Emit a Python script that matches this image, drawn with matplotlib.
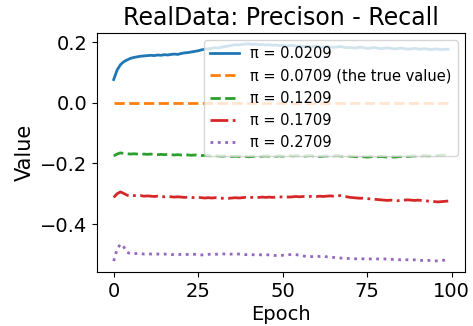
import numpy as np
import matplotlib.pyplot as plt

epochs = np.arange(100)

pi_0209 = [0.077, 0.108, 0.126, 0.136, 0.142, 0.147, 0.150, 0.152, 0.154, 0.155,
           0.156, 0.157, 0.156, 0.158, 0.157, 0.159, 0.158, 0.160, 0.161, 0.160,
           0.163, 0.165, 0.166, 0.168, 0.170, 0.172, 0.175, 0.177, 0.178, 0.180,
           0.182, 0.181, 0.184, 0.186, 0.188, 0.190, 0.192, 0.191, 0.193, 0.194,
           0.195, 0.193, 0.194, 0.192, 0.193, 0.191, 0.192, 0.190, 0.191, 0.189,
           0.190, 0.188, 0.189, 0.190, 0.187, 0.188, 0.186, 0.187, 0.185, 0.186,
           0.187, 0.185, 0.184, 0.186, 0.185, 0.183, 0.184, 0.186, 0.184, 0.182,
           0.183, 0.181, 0.182, 0.184, 0.182, 0.180, 0.181, 0.183, 0.181, 0.179,
           0.180, 0.182, 0.180, 0.178, 0.179, 0.181, 0.179, 0.177, 0.178, 0.180,
           0.178, 0.177, 0.179, 0.177, 0.176, 0.178, 0.177, 0.176, 0.177, 0.177]

pi_0709 = [0.0] * 100

pi_1209 = [-0.175, -0.169, -0.165, -0.167, -0.168, -0.169, -0.168, -0.169, -0.170, -0.169,
           -0.170, -0.169, -0.170, -0.171, -0.170, -0.171, -0.170, -0.171, -0.172, -0.171,
           -0.172, -0.171, -0.172, -0.173, -0.172, -0.173, -0.174, -0.173, -0.174, -0.175,
           -0.174, -0.175, -0.176, -0.175, -0.176, -0.177, -0.176, -0.177, -0.178, -0.177,
           -0.178, -0.177, -0.176, -0.177, -0.176, -0.175, -0.176, -0.175, -0.176, -0.175,
           -0.176, -0.175, -0.174, -0.175, -0.174, -0.175, -0.176, -0.175, -0.174, -0.175,
           -0.176, -0.177, -0.176, -0.175, -0.176, -0.175, -0.174, -0.175, -0.176, -0.175,
           -0.176, -0.177, -0.178, -0.177, -0.178, -0.179, -0.178, -0.177, -0.178, -0.177,
           -0.178, -0.179, -0.178, -0.179, -0.178, -0.177, -0.176, -0.177, -0.176, -0.175,
           -0.176, -0.175, -0.174, -0.175, -0.174, -0.173, -0.174, -0.173, -0.172, -0.172]

pi_1709 = [-0.312, -0.300, -0.294, -0.299, -0.305, -0.307, -0.306, -0.307, -0.306, -0.308,
           -0.307, -0.308, -0.309, -0.308, -0.309, -0.310, -0.309, -0.310, -0.311, -0.310,
           -0.311, -0.312, -0.311, -0.312, -0.313, -0.312, -0.313, -0.314, -0.313, -0.314,
           -0.313, -0.314, -0.315, -0.314, -0.315, -0.314, -0.313, -0.314, -0.313, -0.312,
           -0.313, -0.312, -0.313, -0.312, -0.311, -0.312, -0.311, -0.312, -0.311, -0.310,
           -0.311, -0.310, -0.311, -0.310, -0.309, -0.310, -0.309, -0.310, -0.309, -0.308,
           -0.309, -0.308, -0.309, -0.308, -0.307, -0.308, -0.307, -0.306, -0.308, -0.310,
           -0.312, -0.313, -0.314, -0.315, -0.314, -0.316, -0.317, -0.318, -0.319, -0.320,
           -0.321, -0.322, -0.321, -0.322, -0.323, -0.322, -0.321, -0.320, -0.321, -0.322,
           -0.321, -0.322, -0.323, -0.324, -0.325, -0.326, -0.327, -0.326, -0.325, -0.324]

pi_2709 = [-0.522, -0.483, -0.466, -0.476, -0.494, -0.497, -0.498, -0.497, -0.498, -0.499,
           -0.498, -0.499, -0.500, -0.499, -0.500, -0.499, -0.500, -0.501, -0.500, -0.501,
           -0.500, -0.501, -0.500, -0.499, -0.500, -0.501, -0.502, -0.501, -0.500, -0.499,
           -0.500, -0.499, -0.498, -0.499, -0.500, -0.499, -0.498, -0.499, -0.500, -0.501,
           -0.500, -0.501, -0.502, -0.501, -0.502, -0.501, -0.502, -0.503, -0.504, -0.505,
           -0.503, -0.502, -0.501, -0.500, -0.501, -0.503, -0.505, -0.507, -0.508, -0.507,
           -0.506, -0.507, -0.506, -0.508, -0.509, -0.510, -0.511, -0.512, -0.513, -0.514,
           -0.513, -0.514, -0.515, -0.514, -0.515, -0.516, -0.515, -0.514, -0.515, -0.516,
           -0.515, -0.516, -0.517, -0.516, -0.517, -0.518, -0.517, -0.518, -0.519, -0.518,
           -0.519, -0.520, -0.521, -0.520, -0.521, -0.522, -0.521, -0.520, -0.519, -0.516]

labels = ['π = 0.0209', 'π = 0.0709 (the true value)', 'π = 0.1209',
          'π = 0.1709', 'π = 0.2709']

fig = plt.figure(figsize=(4.73, 3.26), dpi=100)
ax = fig.add_axes([0.205, 0.166, 0.778, 0.733])

ax.plot(epochs, pi_0209, '-', color='C0', lw=2, label=labels[0])
ax.plot(epochs, pi_0709, '--', color='C1', lw=2, label=labels[1])
ax.plot(epochs, pi_1209, '--', color='C2', lw=2, label=labels[2])
ax.plot(epochs, pi_1709, '-.', color='C3', lw=2, label=labels[3])
ax.plot(epochs, pi_2709, ':', color='C4', lw=2, label=labels[4])

ax.set_title('RealData: Precison - Recall', fontsize=17)
ax.set_xlabel('Epoch', fontsize=14, labelpad=3)
ax.set_ylabel('Value', fontsize=15)
ax.tick_params(labelsize=14)
ax.set_xticks([0, 25, 50, 75, 100])
ax.set_yticks([0.2, 0.0, -0.2, -0.4])
ax.legend(loc='upper right', fontsize=10.5)

plt.savefig('out.png')
